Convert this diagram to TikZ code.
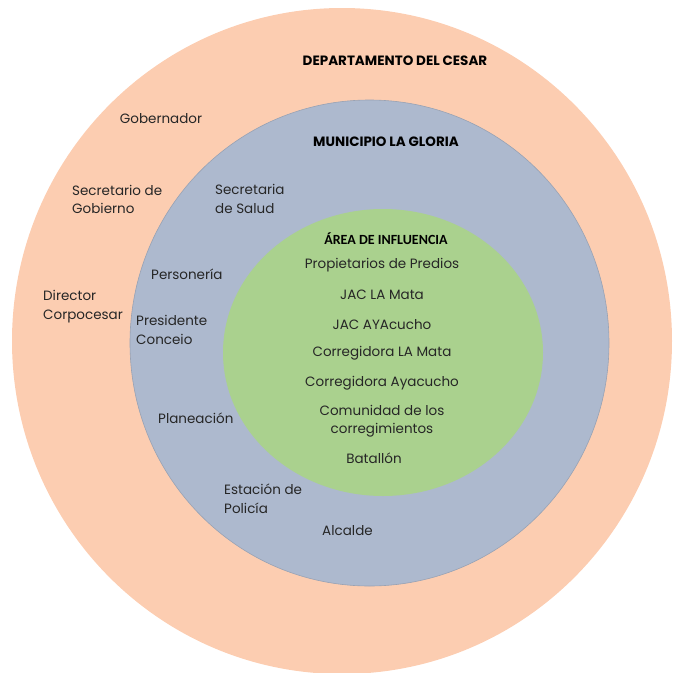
\documentclass[tikz,border=0pt]{standalone}
\usepackage{fontspec}
\setmainfont{Poppins}
\newfontfamily\areafont{Carlito}

\definecolor{deptfill}{HTML}{FCCDB1}
\definecolor{munfill}{HTML}{ADB9CE}
\definecolor{munedge}{HTML}{98A2B4}
\definecolor{areafill}{HTML}{AAD18E}
\definecolor{txtgray}{HTML}{262626}

\begin{document}
\begin{tikzpicture}[x=1pt, y=-1pt,
    lbl/.style={font=\fontsize{13.5}{18.5}\selectfont, text=txtgray, inner sep=0pt, align=left},
    mid/.style={font=\fontsize{13.5}{18}\selectfont, text=txtgray, inner sep=0pt, align=center},
    ttl/.style={font=\fontsize{13.5}{15}\selectfont\bfseries, text=black, inner sep=0pt}]

\useasboundingbox (0,0) rectangle (673,673);

% Outer circle - department
\fill[deptfill] (342,341) ellipse [x radius=330, y radius=333];

% Middle circle - municipality
\filldraw[fill=munfill, draw=munedge, line width=0.6pt] (369.5,343) ellipse [x radius=239.5, y radius=243];

% Inner ellipse - area of influence
\fill[areafill] (383,352.5) ellipse [x radius=160, y radius=143.5];

% Department ring
\node[ttl] (dep) at (395,61) {DEPARTAMENTO DEL CESAR};
\node[lbl] (gob) at (161,119) {Gobernador};
\node[lbl, anchor=west] (secgob) at (72,199.5) {Secretario de\\Gobierno};
\node[lbl, anchor=west] (dircorp) at (43,306.5) {Director\\Corpocesar};

% Municipality ring
\node[ttl] (mun) at (386,142) {MUNICIPIO LA GLORIA};
\node[lbl, anchor=west] (secsal) at (215,199) {Secretaria\\de Salud};
\node[lbl, anchor=west] (pers) at (151,274) {Personería};
\node[lbl, anchor=west] (prescon) at (136,330) {Presidente\\Conceio};
\node[lbl, anchor=west] (plan) at (158,418) {Planeación};
\node[lbl, anchor=west] (estpol) at (224,498.5) {Estación de\\Policía};
\node[lbl, anchor=west] (alc) at (322,531) {Alcalde};

% Area of influence
\node[ttl, font=\areafont\fontsize{14}{16}\selectfont\bfseries] (area) at (386,239) {ÁREA DE INFLUENCIA};
\node[mid] (prop) at (382,265) {Propietarios de Predios};
\node[mid] (jacmata) at (382,295) {JAC LA Mata};
\node[mid] (jacaya) at (382,325) {JAC AYAcucho};
\node[mid] (cormata) at (382,353) {Corregidora LA Mata};
\node[mid] (coraya) at (382,383) {Corregidora Ayacucho};
\node[mid] (comun) at (382,421) {Comunidad de los\\corregimientos};
\node[mid] (bat) at (374,458) {Batallón};

\end{tikzpicture}
\end{document}
